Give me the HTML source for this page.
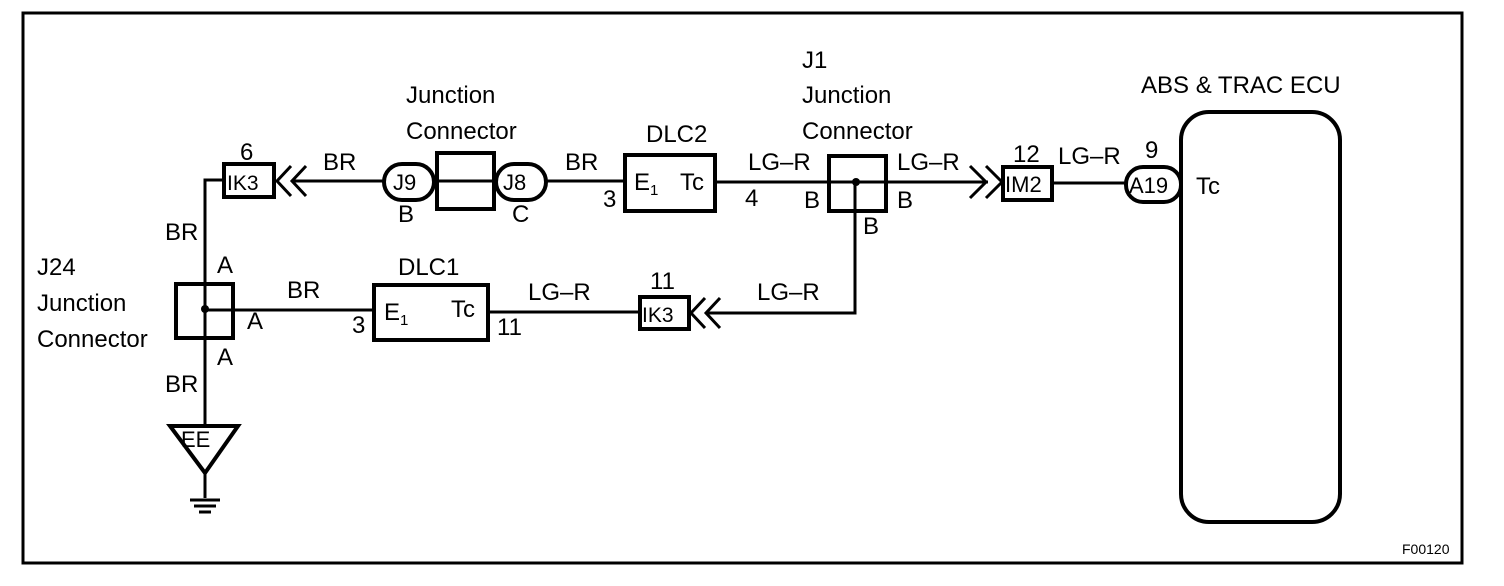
<!DOCTYPE html>
<html><head><meta charset="utf-8"><style>
html,body{margin:0;padding:0;background:#fff;}
svg{display:block;}
text{font-family:"Liberation Sans",Arial,sans-serif;fill:#000;}
</style></head><body>
<svg width="1504" height="586" viewBox="0 0 1504 586" xmlns="http://www.w3.org/2000/svg" font-size="24">
<rect x="23" y="13" width="1439" height="550" fill="none" stroke="#000" stroke-width="3"/>
<g fill="none" stroke="#000" stroke-width="3">
<polyline points="224,180 205,180 205,426"/>
<line x1="205" y1="473" x2="205" y2="498"/>
<rect x="224" y="164" width="50" height="33" stroke-width="4"/>
<polyline points="291,166 277,181 291,196"/>
<polyline points="306,166 292,181 306,196"/>
<line x1="292" y1="181" x2="384" y2="181"/>
<rect x="384" y="164" width="50" height="36" rx="18" stroke-width="4"/>
<rect x="437" y="153" width="57" height="56" stroke-width="4"/>
<line x1="434" y1="181" x2="496" y2="181"/>
<rect x="496" y="164" width="50" height="36" rx="18" stroke-width="4"/>
<line x1="546" y1="181" x2="625" y2="181"/>
<rect x="625" y="155" width="90" height="56" stroke-width="4"/>
<line x1="715" y1="182" x2="988" y2="182"/>
<rect x="829" y="156" width="57" height="55" stroke-width="4"/>
<polyline points="970,166 986,182 970,198"/>
<polyline points="986,166 1002,182 986,198"/>
<rect x="1003" y="167" width="49" height="33" stroke-width="4"/>
<line x1="1052" y1="183" x2="1126" y2="183"/>
<rect x="1126" y="167" width="55" height="35" rx="17" stroke-width="4"/>
<rect x="1181" y="112" width="159" height="410" rx="28" stroke-width="4"/>
<polyline points="855,182 855,313 706,313"/>
<polyline points="705,298 691,313 705,328"/>
<polyline points="720,298 706,313 720,328"/>
<rect x="640" y="297" width="49" height="32" stroke-width="4"/>
<line x1="640" y1="312" x2="489" y2="312"/>
<rect x="374" y="285" width="114" height="55" stroke-width="4"/>
<line x1="205" y1="310" x2="374" y2="310"/>
<rect x="176" y="284" width="57" height="54" stroke-width="4"/>
<polygon points="170,426 238,426 205,473" stroke-width="4"/>
<line x1="190" y1="500" x2="220" y2="500"/>
<line x1="194" y1="506" x2="216" y2="506"/>
<line x1="199" y1="512" x2="211" y2="512"/>
</g>
<circle cx="205" cy="309" r="4" fill="#000"/>
<circle cx="856" cy="182" r="4" fill="#000"/>
<text x="227" y="190" style="font-size:21px">IK3</text>
<text x="240" y="160">6</text>
<text x="323" y="170">BR</text>
<text x="393" y="190" style="font-size:22px">J9</text>
<text x="398" y="222">B</text>
<text x="503" y="190" style="font-size:22px">J8</text>
<text x="512" y="222">C</text>
<text x="406" y="103">Junction</text>
<text x="406" y="139">Connector</text>
<text x="565" y="170">BR</text>
<text x="646" y="142">DLC2</text>
<text x="603" y="207">3</text>
<text x="634" y="190">E<tspan style="font-size:15px" dy="5">1</tspan></text>
<text x="680" y="190">Tc</text>
<text x="745" y="206">4</text>
<text x="748" y="170">LG–R</text>
<text x="804" y="208">B</text>
<text x="802" y="68">J1</text>
<text x="802" y="103">Junction</text>
<text x="802" y="139">Connector</text>
<text x="897" y="170">LG–R</text>
<text x="897" y="208">B</text>
<text x="863" y="234">B</text>
<text x="1005" y="192" style="font-size:22px">IM2</text>
<text x="1013" y="162">12</text>
<text x="1058" y="164">LG–R</text>
<text x="1145" y="158">9</text>
<text x="1129" y="193" style="font-size:22px">A19</text>
<text x="1196" y="194">Tc</text>
<text x="1141" y="93">ABS &amp; TRAC ECU</text>
<text x="165" y="240">BR</text>
<text x="217" y="273">A</text>
<text x="247" y="329">A</text>
<text x="217" y="365">A</text>
<text x="165" y="392">BR</text>
<text x="37" y="275">J24</text>
<text x="37" y="311">Junction</text>
<text x="37" y="347">Connector</text>
<text x="181" y="447" style="font-size:22px">EE</text>
<text x="287" y="298">BR</text>
<text x="398" y="275">DLC1</text>
<text x="352" y="333">3</text>
<text x="384" y="320">E<tspan style="font-size:15px" dy="5">1</tspan></text>
<text x="451" y="317">Tc</text>
<text x="497" y="335">11</text>
<text x="528" y="300">LG–R</text>
<text x="650" y="289">11</text>
<text x="642" y="322" style="font-size:21px">IK3</text>
<text x="757" y="300">LG–R</text>
<text x="1402" y="554" style="font-size:14px">F00120</text>
</svg>
</body></html>
